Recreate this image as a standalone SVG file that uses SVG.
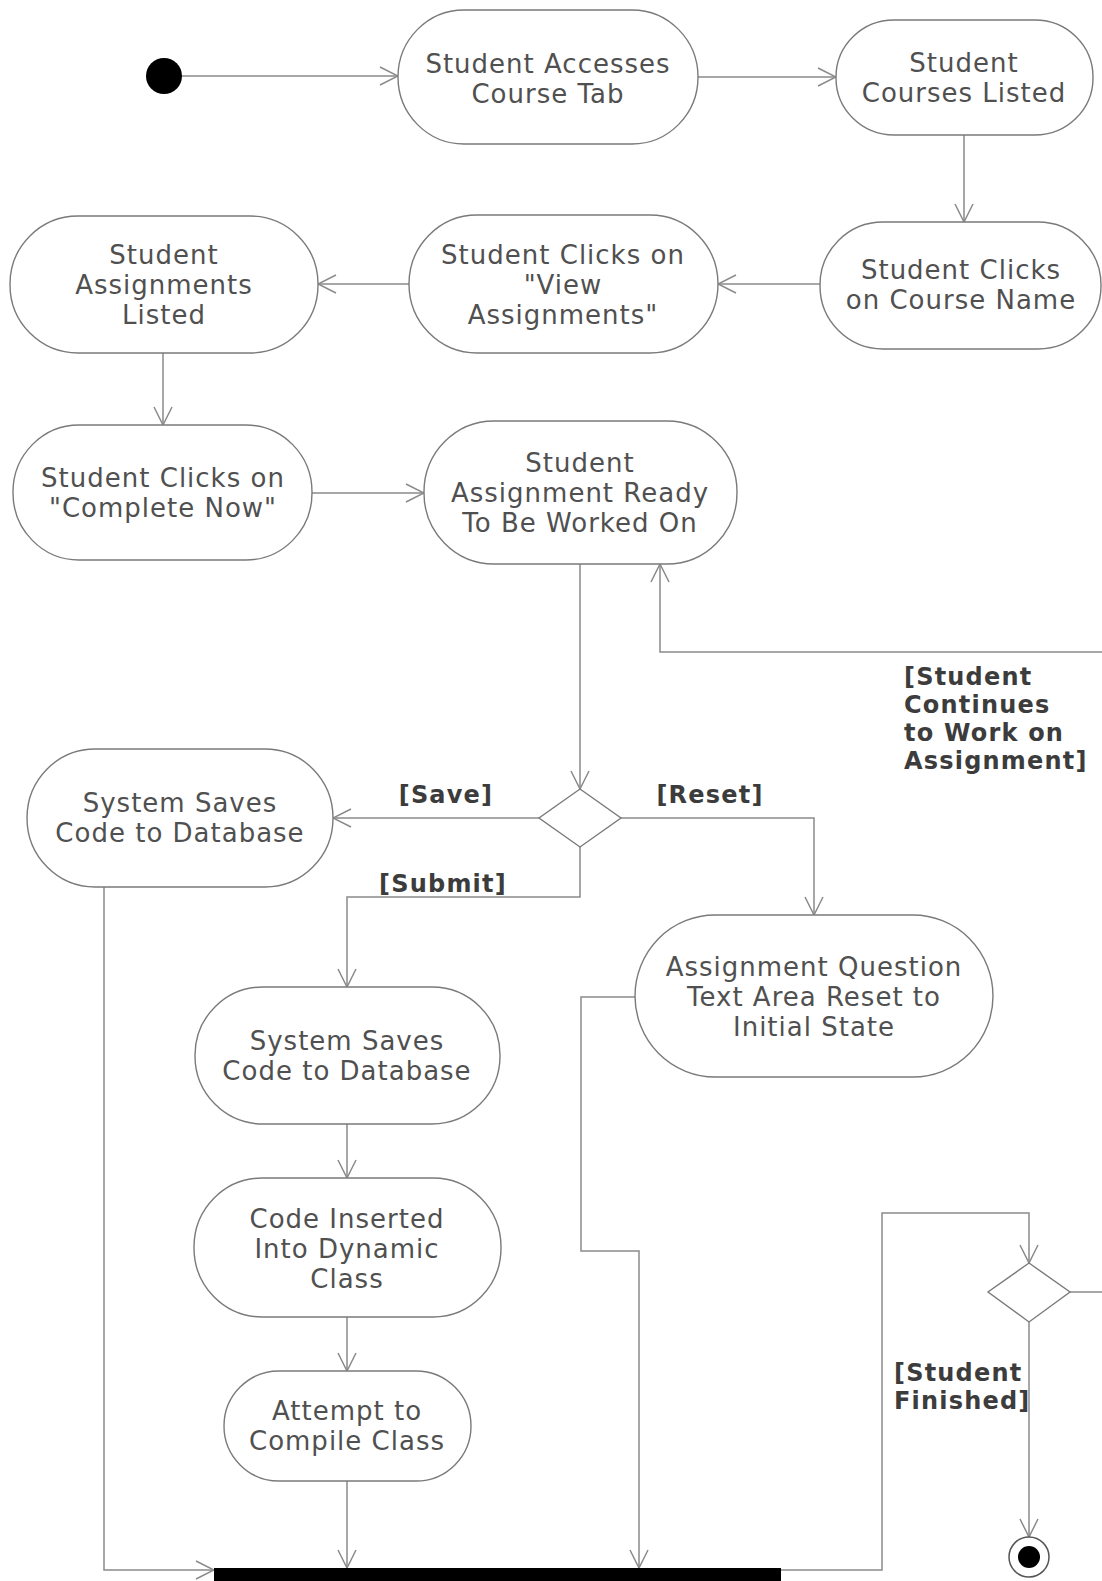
<svg xmlns="http://www.w3.org/2000/svg" width="1102" height="1581" viewBox="0 0 1102 1581">
<defs>
<marker id="arr" viewBox="0 0 20 20" refX="19" refY="10" markerWidth="20" markerHeight="20" orient="auto" markerUnits="userSpaceOnUse">
<path d="M1,1 L19,10 L1,19" fill="none" stroke="#8a8a8a" stroke-width="1.5"/>
</marker>
</defs>
<style>
.n{fill:#fff;stroke:#7a7a7a;stroke-width:1.4}
.t{font-family:"DejaVu Sans",Verdana,sans-serif;font-size:26px;letter-spacing:1px;fill:#505050;text-anchor:middle}
.g{font-family:"DejaVu Sans",Verdana,sans-serif;font-size:24px;letter-spacing:1.2px;font-weight:bold;fill:#3c3c3c}
.c{fill:none;stroke:#8a8a8a;stroke-width:1.5;marker-end:url(#arr)}
.p{fill:none;stroke:#8a8a8a;stroke-width:1.5}
</style>
<rect width="1102" height="1581" fill="#fff"/>
<g id="connectors">
<line class="c" x1="182" y1="76" x2="398" y2="76"/>
<line class="c" x1="698" y1="77" x2="836" y2="77"/>
<line class="c" x1="964" y1="135" x2="964" y2="222"/>
<line class="c" x1="820" y1="284" x2="718" y2="284"/>
<line class="c" x1="409" y1="284" x2="318" y2="284"/>
<line class="c" x1="163" y1="353" x2="163" y2="425"/>
<line class="c" x1="312" y1="493" x2="424" y2="493"/>
<line class="c" x1="580" y1="564" x2="580" y2="789"/>
<polyline class="c" points="1102,652 660,652 660,564"/>
<line class="c" x1="539" y1="818" x2="333" y2="818"/>
<polyline class="c" points="621,818 814,818 814,915"/>
<polyline class="c" points="580,847 580,897 347,897 347,987"/>
<polyline class="c" points="104,887 104,1570 214,1570"/>
<line class="c" x1="347" y1="1124" x2="347" y2="1178"/>
<line class="c" x1="347" y1="1317" x2="347" y2="1371"/>
<line class="c" x1="347" y1="1481" x2="347" y2="1568"/>
<polyline class="c" points="635,997 581,997 581,1251 639,1251 639,1568"/>
<polyline class="c" points="781,1570 882,1570 882,1213 1029,1213 1029,1263"/>
<line class="p" x1="1070" y1="1292" x2="1102" y2="1292"/>
<line class="c" x1="1029" y1="1322" x2="1029" y2="1537"/>
<text class="g" x="446" y="803" text-anchor="middle">[Save]</text>
<text class="g" x="710" y="803" text-anchor="middle">[Reset]</text>
<text class="g" x="443" y="892" text-anchor="middle">[Submit]</text>
<text class="g" x="904"><tspan x="904" y="685">[Student</tspan><tspan x="904" y="713">Continues</tspan><tspan x="904" y="741">to Work on</tspan><tspan x="904" y="769">Assignment]</tspan></text>
<text class="g" x="894"><tspan x="894" y="1381">[Student</tspan><tspan x="894" y="1409">Finished]</tspan></text>
</g>
<g id="start"><circle cx="164" cy="76" r="18" fill="#000"/></g>
<g id="n1"><rect class="n" x="398" y="10" width="300" height="134" rx="66" ry="67"/>
<text class="t"><tspan x="548" y="73">Student Accesses</tspan><tspan x="548" y="103">Course Tab</tspan></text></g>
<g id="n2"><rect class="n" x="836" y="20" width="257" height="115" rx="58" ry="57"/>
<text class="t"><tspan x="964" y="72">Student</tspan><tspan x="964" y="102">Courses Listed</tspan></text></g>
<g id="n3"><rect class="n" x="820" y="222" width="281" height="127" rx="63" ry="63"/>
<text class="t"><tspan x="961" y="279">Student Clicks</tspan><tspan x="961" y="309">on Course Name</tspan></text></g>
<g id="n4"><rect class="n" x="409" y="215" width="309" height="138" rx="68" ry="69"/>
<text class="t"><tspan x="563" y="264">Student Clicks on</tspan><tspan x="563" y="294">"View</tspan><tspan x="563" y="324">Assignments"</tspan></text></g>
<g id="n5"><rect class="n" x="10" y="216" width="308" height="137" rx="68" ry="68"/>
<text class="t"><tspan x="164" y="264">Student</tspan><tspan x="164" y="294">Assignments</tspan><tspan x="164" y="324">Listed</tspan></text></g>
<g id="n6"><rect class="n" x="13" y="425" width="299" height="135" rx="66" ry="67"/>
<text class="t"><tspan x="163" y="487">Student Clicks on</tspan><tspan x="163" y="517">"Complete Now"</tspan></text></g>
<g id="n7"><rect class="n" x="424" y="421" width="313" height="143" rx="70" ry="71"/>
<text class="t"><tspan x="580" y="472">Student</tspan><tspan x="580" y="502">Assignment Ready</tspan><tspan x="580" y="532">To Be Worked On</tspan></text></g>
<g id="d1"><polygon class="n" points="580,789 621,818 580,847 539,818"/></g>
<g id="n8"><rect class="n" x="27" y="749" width="306" height="138" rx="68" ry="69"/>
<text class="t"><tspan x="180" y="812">System Saves</tspan><tspan x="180" y="842">Code to Database</tspan></text></g>
<g id="n9"><rect class="n" x="635" y="915" width="358" height="162" rx="80" ry="81"/>
<text class="t"><tspan x="814" y="976">Assignment Question</tspan><tspan x="814" y="1006">Text Area Reset to</tspan><tspan x="814" y="1036">Initial State</tspan></text></g>
<g id="n10"><rect class="n" x="195" y="987" width="305" height="137" rx="68" ry="68"/>
<text class="t"><tspan x="347" y="1050">System Saves</tspan><tspan x="347" y="1080">Code to Database</tspan></text></g>
<g id="n11"><rect class="n" x="194" y="1178" width="307" height="139" rx="68" ry="69"/>
<text class="t"><tspan x="347" y="1228">Code Inserted</tspan><tspan x="347" y="1258">Into Dynamic</tspan><tspan x="347" y="1288">Class</tspan></text></g>
<g id="n12"><rect class="n" x="224" y="1371" width="247" height="110" rx="55" ry="55"/>
<text class="t"><tspan x="347" y="1420">Attempt to</tspan><tspan x="347" y="1450">Compile Class</tspan></text></g>
<g id="bar"><rect x="214" y="1568" width="567" height="16" fill="#000"/></g>
<g id="d2"><polygon class="n" points="1029,1263 1070,1292 1029,1322 988,1292"/></g>
<g id="final"><circle cx="1029" cy="1557" r="20" fill="#fff" stroke="#555" stroke-width="1.5"/><circle cx="1029" cy="1557" r="11" fill="#000"/></g>
</svg>
